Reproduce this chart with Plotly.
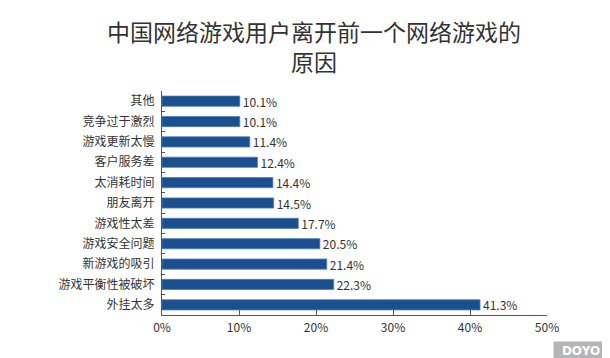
import plotly.graph_objects as go

categories = ["其他", "竞争过于激烈", "游戏更新太慢", "客户服务差", "太消耗时间", "朋友离开",
              "游戏性太差", "游戏安全问题", "新游戏的吸引", "游戏平衡性被破坏", "外挂太多"]
values = [0.101, 0.101, 0.114, 0.124, 0.144, 0.145, 0.177, 0.205, 0.214, 0.223, 0.413]
tick_vals = [0, 0.1, 0.2, 0.3, 0.4, 0.5]
title_lines = ["中国网络游戏用户离开前一个网络游戏的", "原因"]

font_family = "Noto Sans CJK SC, Noto Sans, sans-serif"

fig = go.Figure(go.Bar(
    y=categories, x=values, orientation="h",
    marker=dict(color="#1B4F8F", line=dict(color="#4a7fb8", width=0.8)),
    width=0.5,
    text=[f"{v*100:.1f}%" for v in values],
    textposition="outside", cliponaxis=False, constraintext="none",
    textfont=dict(size=12, color="#333333", family=font_family),
))

fig.update_layout(
    width=610, height=358,
    margin=dict(l=154, r=71, t=83, b=51),
    paper_bgcolor="white", plot_bgcolor="white",
    showlegend=False,
    font=dict(family=font_family, color="#333333", size=12),
    xaxis=dict(range=[0, 0.5], tickvals=tick_vals, tickformat=".0%",
               showgrid=False, zeroline=False, showline=True, linecolor="#555555",
               linewidth=1, ticks="inside", ticklen=5, tickcolor="#555555",
               ticklabelstandoff=2, tickfont=dict(size=12, color="#333333")),
    yaxis=dict(autorange="reversed", showgrid=False, showline=True, linecolor="#555555",
               linewidth=1, ticks="inside", ticklen=3, tickcolor="#555555",
               tickson="boundaries", ticklabelstandoff=4,
               tickfont=dict(size=12, color="#333333")),
    annotations=[
        dict(text="<br>".join(title_lines), xref="paper", yref="paper", x=0.395, y=1.20,
             xanchor="center", yanchor="middle", showarrow=False, align="center",
             font=dict(size=23, color="#333333", family=font_family)),
        dict(text="<b>DOYO</b>", xref="paper", yref="paper",
             x=1.162, y=-0.115, xanchor="right", yanchor="top",
             width=54, height=18, align="center",
             showarrow=False, bgcolor="#b5b5b5",
             font=dict(size=12, color="white", family="DejaVu Sans"),
             borderpad=0),
    ],
)

fig.write_html("out.html")
